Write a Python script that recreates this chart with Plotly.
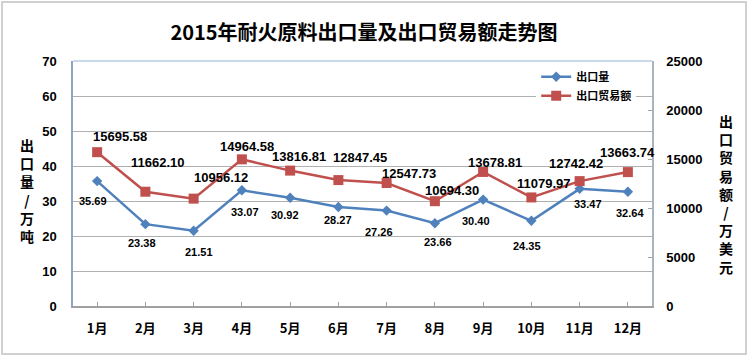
import plotly.graph_objects as go

months = ["1月", "2月", "3月", "4月", "5月", "6月", "7月", "8月", "9月", "10月", "11月", "12月"]
volume = [35.69, 23.38, 21.51, 33.07, 30.92, 28.27, 27.26, 23.66, 30.40, 24.35, 33.47, 32.64]
trade = [15695.58, 11662.10, 10956.12, 14964.58, 13816.81, 12847.45, 12547.73, 10694.30,
         13678.81, 11079.97, 12742.42, 13663.74]

left_ticks = [0, 10, 20, 30, 40, 50, 60, 70]
right_ticks = [0, 5000, 10000, 15000, 20000, 25000]
right_tick_labels = ["0", "5000", "10000", "15000", "20000", "25000"]

title = "2015年耐火原料出口量及出口贸易额走势图"
left_title = "出口量/万吨"
right_title = "出口贸易额/万美元"
name_volume = "出口量"
name_trade = "出口贸易额"

# label offsets (pixels) - styling only
vol_dx = [-4, -3, 5, 3, -5, 0, -8, 3, -7, -4, 8, 2]
vol_dy = [20, 19, 21, 22, 17, 13, 21, 19, 21, 25, 15, 21]
tr_dx = [23, 13, 27, 5, 9, 22, 22, 17, 12, 13, -4, 0]
tr_dy = [16, 29, 21, 13, 14, 23, 10, 11, 9, 14, 18, 20]

BLUE = "#4F81BD"
RED = "#C0504D"
FONT = "Liberation Sans, Arial, Noto Sans CJK SC, sans-serif"
CJK = "Noto Sans CJK SC, sans-serif"

fig = go.Figure()
fig.add_trace(go.Scatter(
    x=months, y=volume, name=name_volume, mode="lines+markers",
    line=dict(color=BLUE, width=2.5),
    marker=dict(symbol="diamond", size=8, color=BLUE),
    yaxis="y", cliponaxis=False))
fig.add_trace(go.Scatter(
    x=months, y=trade, name=name_trade, mode="lines+markers",
    line=dict(color=RED, width=2.5),
    marker=dict(symbol="square", size=10, color=RED),
    yaxis="y2", cliponaxis=False))

annotations = []
for m, v, dx, dy in zip(months, volume, vol_dx, vol_dy):
    annotations.append(dict(x=m, y=v, xref="x", yref="y", text=f"{v:.2f}",
                            showarrow=False, xshift=dx, yshift=-dy,
                            font=dict(family=FONT, size=11, color="#000000", weight="bold")))
for m, v, dx, dy in zip(months, trade, tr_dx, tr_dy):
    annotations.append(dict(x=m, y=v, xref="x", yref="y2", text=f"{v:.2f}",
                            showarrow=False, xshift=dx, yshift=dy,
                            font=dict(family=FONT, size=13, color="#000000", weight="bold")))

fig.update_layout(
    width=750, height=357,
    margin=dict(l=73, r=98, t=61, b=51),
    paper_bgcolor="white", plot_bgcolor="white",
    title=dict(text=title, x=364 / 750, xanchor="center", y=1 - 33 / 357, yanchor="middle",
               font=dict(family=CJK, size=20, color="#000000", weight="bold")),
    showlegend=True,
    legend=dict(x=0.80, y=0.995, xanchor="left", yanchor="top", bgcolor="white",
                font=dict(family=CJK, size=11, color="#000000", weight="bold"),
                itemwidth=30, tracegroupgap=0),
    xaxis=dict(type="category", range=[-0.5, 11.5], showgrid=False,
               showline=True, linecolor="#A0A0A0", linewidth=1.5,
               ticks="inside", ticklen=4, tickcolor="#A0A0A0",
               ticklabelstandoff=10,
               tickfont=dict(family=CJK, size=13, color="#000000", weight="bold")),
    yaxis=dict(range=[0, 70], tickvals=left_ticks, showgrid=True, gridcolor="#B0B0B0", gridwidth=1.2,
               showline=True, linecolor="#8EA4C1", linewidth=1.5, zeroline=False,
               ticks="", ticklabelstandoff=12,
               tickfont=dict(family=FONT, size=13, color="#000000", weight="bold")),
    yaxis2=dict(range=[0, 25000], tickvals=right_ticks, ticktext=right_tick_labels,
                overlaying="y", side="right",
                showgrid=False, showline=True, linecolor="#A9B4C2", linewidth=1.5, zeroline=False,
                ticks="inside", ticklen=4, tickcolor="#A0A0A0", ticklabelstandoff=10,
                tickfont=dict(family=FONT, size=13, color="#000000", weight="bold")),
    annotations=annotations,
)

# vertical axis titles
fig.add_annotation(x=(27 - 73) / 579, y=(306 - 191) / 245, xref="paper", yref="paper",
                   xanchor="center", yanchor="middle",
                   text="<br>".join(list(left_title)), showarrow=False, align="center",
                   font=dict(family=CJK, size=14, color="#000000", weight="bold"))
fig.add_annotation(x=(726 - 73) / 579, y=(306 - 194) / 245, xref="paper", yref="paper",
                   xanchor="center", yanchor="middle",
                   text="<br>".join(list(right_title)), showarrow=False, align="center",
                   font=dict(family=CJK, size=14, color="#000000", weight="bold"))

# plot-area top border
fig.add_shape(type="line", xref="paper", yref="paper", x0=0, x1=1, y0=1, y1=1,
              line=dict(color="#B7CCE4", width=1.5))
# outer chart border
fig.add_shape(type="rect", xref="paper", yref="paper",
              x0=(2 - 73) / 579, x1=(746 - 73) / 579, y0=(306 - 354) / 245, y1=(306 - 2) / 245,
              line=dict(color="#D0D0D0", width=2), layer="below")

fig.write_html("out.html", config={"displayModeBar": False},
               post_script="document.body.style.margin='0px';")
